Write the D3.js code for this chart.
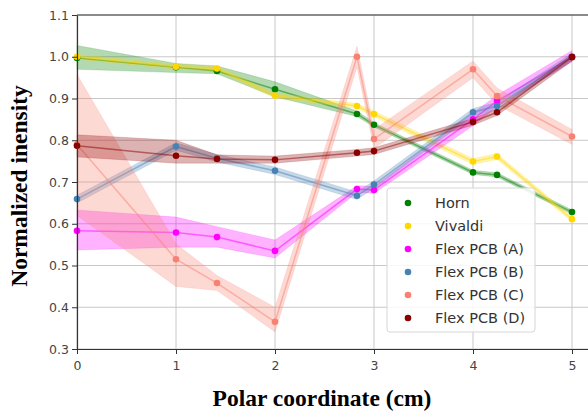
<!DOCTYPE html>
<html>
<head>
<meta charset="utf-8">
<script src="https://cdn.jsdelivr.net/npm/d3@7"></script>
<style>
  body { margin: 0; background: #fff; }
  svg { display: block; }
</style>
</head>
<body>
<svg id="chart"></svg>
<script>
// positions along the polar axis (cm)
const xs = [0, 1, 1.414, 2, 2.828, 3, 4, 4.243, 5];

const seriesNames = ["Horn", "Vivaldi", "Flex PCB (A)", "Flex PCB (B)", "Flex PCB (C)", "Flex PCB (D)"];
const seriesColors = ["green", "gold", "magenta", "steelblue", "salmon", "darkred"];

// mean values
const horn    = [0.997, 0.975, 0.966, 0.922, 0.863, 0.837, 0.723, 0.717, 0.628];
const vivaldi = [1.000, 0.976, 0.972, 0.907, 0.882, 0.863, 0.749, 0.761, 0.611];
const flexA   = [0.583, 0.579, 0.568, 0.535, 0.683, 0.681, 0.850, 0.894, 1.000];
const flexB   = [0.659, 0.785, 0.757, 0.727, 0.667, 0.694, 0.867, 0.882, 1.000];
const flexC   = [0.790, 0.515, 0.458, 0.365, 1.000, 0.803, 0.970, 0.906, 0.809];
const flexD   = [0.787, 0.763, 0.755, 0.753, 0.770, 0.774, 0.844, 0.867, 0.999];

// shaded band, lower / upper
const hornLo    = [0.970, 0.962, 0.959, 0.904, 0.857, 0.832, 0.718, 0.712, 0.623];
const hornHi    = [1.027, 0.984, 0.978, 0.940, 0.870, 0.842, 0.728, 0.722, 0.633];
const vivaldiLo = [0.994, 0.970, 0.966, 0.901, 0.876, 0.856, 0.742, 0.754, 0.605];
const vivaldiHi = [1.006, 0.982, 0.978, 0.913, 0.888, 0.870, 0.756, 0.768, 0.617];
const flexALo   = [0.537, 0.544, 0.544, 0.518, 0.675, 0.673, 0.835, 0.880, 0.988];
const flexAHi   = [0.633, 0.616, 0.593, 0.561, 0.691, 0.690, 0.865, 0.908, 1.015];
const flexBLo   = [0.650, 0.776, 0.748, 0.718, 0.658, 0.685, 0.858, 0.873, 0.991];
const flexBHi   = [0.668, 0.794, 0.766, 0.736, 0.676, 0.703, 0.876, 0.891, 1.009];
const flexCLo   = [0.620, 0.450, 0.440, 0.341, 0.975, 0.780, 0.950, 0.885, 0.790];
const flexCHi   = [0.958, 0.552, 0.476, 0.400, 1.025, 0.826, 0.990, 0.925, 0.826];
const flexDLo   = [0.760, 0.745, 0.745, 0.745, 0.762, 0.766, 0.836, 0.859, 0.990];
const flexDHi   = [0.813, 0.800, 0.765, 0.762, 0.778, 0.782, 0.852, 0.875, 1.006];

const xTicks = [0, 1, 2, 3, 4, 5];
const yTicks = [0.3, 0.4, 0.5, 0.6, 0.7, 0.8, 0.9, 1.0, 1.1];

const means = [horn, vivaldi, flexA, flexB, flexC, flexD];
const lows  = [hornLo, vivaldiLo, flexALo, flexBLo, flexCLo, flexDLo];
const highs = [hornHi, vivaldiHi, flexAHi, flexBHi, flexCHi, flexDHi];

const width = 588, height = 413;
const margin = { top: 15, left: 77, bottom: 64 };

const svg = d3.select('#chart')
    .attr('width', width)
    .attr('height', height);

// axes run past the right edge of the picture
const x = d3.scaleLinear().domain([0, 5.2]).range([margin.left, margin.left + 5.2 * 99]);
const y = d3.scaleLinear().domain([0.3, 1.1]).range([height - margin.bottom, margin.top]);

// grid
svg.append('g')
    .selectAll('line.vx')
    .data(xTicks)
    .join('line')
    .attr('x1', d => x(d)).attr('x2', d => x(d))
    .attr('y1', y(0.3)).attr('y2', y(1.1))
    .attr('stroke', '#c8c8c8').attr('stroke-width', 1);
svg.append('g')
    .selectAll('line.hy')
    .data(yTicks)
    .join('line')
    .attr('x1', x(0)).attr('x2', width)
    .attr('y1', d => y(d)).attr('y2', d => y(d))
    .attr('stroke', '#c8c8c8').attr('stroke-width', 1);

// bands, lines and points
const area = d3.area()
    .x((d, i) => x(xs[i]))
    .y0(d => y(d[0]))
    .y1(d => y(d[1]));
const line = d3.line()
    .x((d, i) => x(xs[i]))
    .y(d => y(d));

means.forEach(function (m, k) {
    const band = xs.map((_, i) => [lows[k][i], highs[k][i]]);
    svg.append('path')
        .datum(band)
        .attr('fill', seriesColors[k])
        .attr('fill-opacity', 0.3)
        .attr('stroke', seriesColors[k])
        .attr('stroke-opacity', 0.15)
        .attr('d', area);
    svg.append('path')
        .datum(m)
        .attr('fill', 'none')
        .attr('stroke', seriesColors[k])
        .attr('stroke-opacity', 0.5)
        .attr('stroke-width', 1.5)
        .attr('d', line);
});
means.forEach(function (m, k) {
    svg.append('g')
        .selectAll('circle')
        .data(m)
        .join('circle')
        .attr('cx', (d, i) => x(xs[i]))
        .attr('cy', d => y(d))
        .attr('r', 3.3)
        .attr('fill', seriesColors[k]);
});

// axes
const xAxis = svg.append('g')
    .attr('transform', 'translate(0,' + y(0.3) + ')')
    .call(d3.axisBottom(x).tickValues(xTicks).tickFormat(d3.format('d')).tickSize(5).tickSizeOuter(0));
const yAxis = svg.append('g')
    .attr('transform', 'translate(' + x(0) + ',0)')
    .call(d3.axisLeft(y).tickValues(yTicks).tickFormat(d3.format('.1f')).tickSize(5).tickSizeOuter(0));
[xAxis, yAxis].forEach(function (a) {
    a.select('.domain').attr('stroke', '#333').attr('stroke-width', 1.2);
    a.selectAll('.tick line').attr('stroke', '#333');
    a.selectAll('.tick text')
        .attr('fill', '#444')
        .style('font-family', 'DejaVu Sans')
        .style('font-size', '12.5px');
});
xAxis.selectAll('.tick text').attr('dy', '1.0em');

// top spine
svg.append('line')
    .attr('x1', x(0)).attr('x2', width)
    .attr('y1', y(1.1)).attr('y2', y(1.1))
    .attr('stroke', '#333').attr('stroke-width', 1.2);

// titles
svg.append('text')
    .attr('x', 322).attr('y', 406)
    .attr('text-anchor', 'middle')
    .style('font-family', 'Liberation Serif')
    .style('font-weight', 'bold')
    .style('font-size', '23.5px')
    .text('Polar coordinate (cm)');
svg.append('text')
    .attr('transform', 'translate(27,186) rotate(-90)')
    .attr('text-anchor', 'middle')
    .style('font-family', 'Liberation Serif')
    .style('font-weight', 'bold')
    .style('font-size', '23.5px')
    .text('Normalized inensity');

// legend
const legend = svg.append('g').attr('transform', 'translate(387,188)');
legend.append('rect')
    .attr('width', 148).attr('height', 144)
    .attr('rx', 3)
    .attr('fill', 'white').attr('fill-opacity', 0.85)
    .attr('stroke', '#d6d6d6');
seriesNames.forEach(function (name, k) {
    const row = legend.append('g').attr('transform', 'translate(0,' + (15 + k * 23) + ')');
    row.append('circle').attr('cx', 21).attr('cy', 0).attr('r', 3.3).attr('fill', seriesColors[k]);
    row.append('text')
        .attr('x', 48).attr('y', 0).attr('dy', '0.35em')
        .attr('fill', '#333')
        .style('font-family', 'DejaVu Sans')
        .style('font-size', '14.5px')
        .text(name);
});
</script>
</body>
</html>
